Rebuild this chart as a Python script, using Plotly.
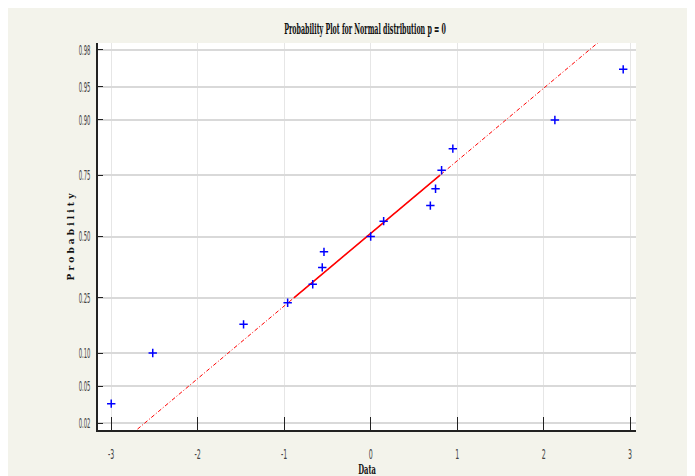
import numpy as np
import plotly.graph_objects as go
from statistics import NormalDist

# ---- data ----
x_data = [-3.00, -2.52, -1.47, -0.96, -0.67, -0.56, -0.54, 0.00, 0.15, 0.69, 0.75, 0.82, 0.95, 2.13, 2.92]
prob = [0.033, 0.100, 0.167, 0.233, 0.300, 0.367, 0.433, 0.500, 0.567, 0.633, 0.700, 0.767, 0.833, 0.900, 0.967]
y_tick_probs = [0.02, 0.05, 0.10, 0.25, 0.50, 0.75, 0.90, 0.95, 0.98]
y_tick_text = ["0.02", "0.05", "0.10", "0.25", "0.50", "0.75", "0.90", "0.95", "0.98"]
x_tick_vals = [-3, -2, -1, 0, 1, 2, 3]
x_tick_text = ["-3", "-2", "-1", "0", "1", "2", "3"]

nd = NormalDist()
z = [nd.inv_cdf(p) for p in prob]
y_tick_z = [nd.inv_cdf(p) for p in y_tick_probs]

# reference line through the quartiles (MATLAB normplot style)
xs = np.sort(np.array(x_data))
n = len(xs)
pos = (np.arange(1, n + 1) - 0.5) / n
q1 = float(np.interp(0.25, pos, xs))
q3 = float(np.interp(0.75, pos, xs))
zq1, zq3 = nd.inv_cdf(0.25), nd.inv_cdf(0.75)
slope = (zq3 - zq1) / (q3 - q1)

def line_z(x):
    return zq1 + slope * (x - q1)

x_rng = [-3.153, 3.068]
y_rng = [-2.128, 2.128]

fig = go.Figure()
ext_x = [x_rng[0] - 0.5, x_rng[1] + 0.5]
fig.add_trace(go.Scatter(x=ext_x, y=[line_z(v) for v in ext_x], mode="lines",
                         line=dict(color="red", width=1, dash="4px,2px,1px,2px"),
                         showlegend=False, hoverinfo="skip"))
fig.add_trace(go.Scatter(x=[q1, q3], y=[line_z(q1), line_z(q3)], mode="lines",
                         line=dict(color="red", width=1.6),
                         showlegend=False, hoverinfo="skip"))
fig.add_trace(go.Scatter(x=x_data, y=z, mode="markers",
                         marker=dict(symbol="cross-thin", size=6,
                                     line=dict(color="blue", width=1.5)),
                         showlegend=False))

serif = "DejaVu Serif Condensed, Liberation Serif, serif"
sans = "DejaVu Sans Condensed, Liberation Sans Narrow, sans-serif"
bg = "#f3f3eb"
W, H = 702, 476
L, T, PW, PH = 90, 35, 538, 387
fig.update_layout(
    width=W, height=H,
    margin=dict(l=L, r=W - L - PW, t=T, b=H - T - PH, autoexpand=False),
    paper_bgcolor=bg, plot_bgcolor="white",
    title=dict(text="<b>Probability Plot for Normal distribution p = 0</b>",
               x=357 / W, xanchor="center",
               y=1 - 21 / H, yanchor="middle", automargin=False,
               font=dict(family=serif, size=14, color="#111")),
    xaxis=dict(range=x_rng, tickmode="array", tickvals=x_tick_vals, ticktext=x_tick_text,
               showgrid=True, gridcolor="#e6e6e6", gridwidth=1, zeroline=False,
               showline=True, linecolor="#222", linewidth=1.5, automargin=False,
               ticks="inside", ticklen=13, tickcolor="#222", tickwidth=1.2,
               ticklabelstandoff=10,
               tickfont=dict(family=sans, size=14, color="#444"),
               title=dict(text="<b>Data</b>", standoff=4,
                          font=dict(family=serif, size=13, color="#111"))),
    yaxis=dict(range=y_rng, tickmode="array", tickvals=y_tick_z, ticktext=y_tick_text,
               showgrid=True, gridcolor="#d9d9d9", gridwidth=1.5, zeroline=False,
               showline=True, linecolor="#222", linewidth=1.5, automargin=False,
               ticks="inside", ticklen=5, tickcolor="#222", tickwidth=1.2,
               ticklabelstandoff=3,
               tickfont=dict(family=sans, size=14, color="#444")),
    annotations=[
        dict(text="<b>P r o b a b i l i t y</b>", textangle=-90,
             xref="paper", yref="paper", x=(62 - L) / PW, y=0.5,
             xanchor="center", yanchor="middle", showarrow=False,
             font=dict(family=serif, size=10, color="#111")),
    ],
)

# horizontally condense texts, as they appear in the reference
post = """
document.documentElement.style.overflow = 'hidden';
document.body.style.overflow = 'hidden';
var gd = document.getElementById('{plot_id}');
function squeezeEl(t, s, anchor){
  var bb = t.getBBox();
  if(!bb.width) return;
  var cx = anchor === 'end' ? bb.x + bb.width : bb.x + bb.width/2;
  var old = t.getAttribute('transform') || '';
  t.setAttribute('transform', old + ' translate('+cx+',0) scale('+s+',1) translate('+(-cx)+',0)');
}
function squeezeTo(sel, targetW){
  var t = gd.querySelector(sel);
  if(!t) return;
  var bb = t.getBBox();
  if(!bb.width) return;
  squeezeEl(t, Math.min(1, targetW/bb.width), 'middle');
}
squeezeTo('.gtitle', 162);
squeezeTo('.xtitle', 18);
gd.querySelectorAll('.xtick text').forEach(function(t){ squeezeEl(t, 0.5, 'middle'); });
gd.querySelectorAll('.ytick text').forEach(function(t){ squeezeEl(t, 0.42, 'end'); });
"""
fig.write_html("out.html", post_script=post)
